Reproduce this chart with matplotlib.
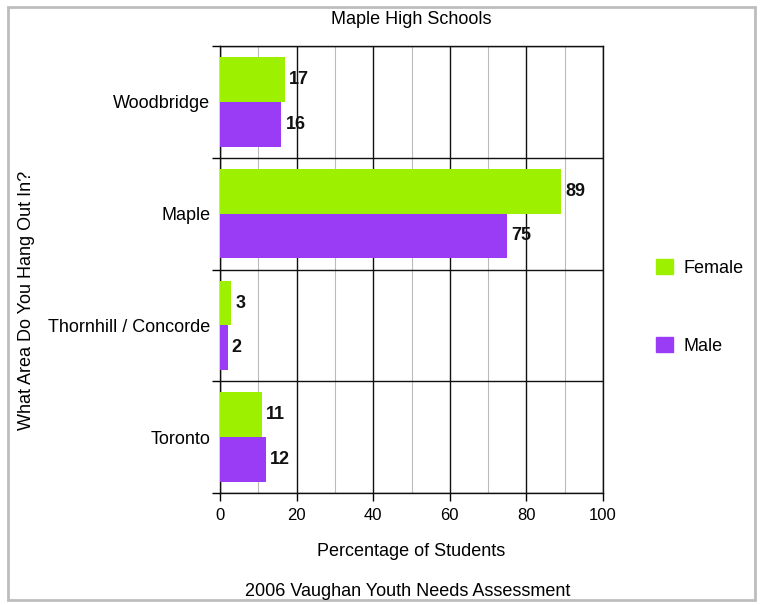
import numpy as np
import matplotlib.pyplot as plt
from matplotlib.patches import Rectangle, Patch
from matplotlib.ticker import MultipleLocator, FixedLocator, NullFormatter

areas = ["Woodbridge", "Maple", "Thornhill / Concorde", "Toronto"]
female = [17, 89, 3, 11]
male = [16, 75, 2, 12]
x_ticks = [0, 20, 40, 60, 80, 100]

female_color = "#9cf000"
male_color = "#9a3cf6"

plt.rcParams["font.family"] = ["Liberation Sans", "DejaVu Sans"]

fig = plt.figure(figsize=(7.6, 6.05), dpi=100)
ax = fig.add_axes([220 / 760, 1 - 493 / 605, 383 / 760, 447 / 605])

y = np.arange(len(areas))
h = 0.4
ax.barh(y - h / 2, female, height=h, color=female_color, zorder=3)
ax.barh(y + h / 2, male, height=h, color=male_color, zorder=3)

for yi, v in zip(y, female):
    ax.annotate(str(v), (v, yi - h / 2), xytext=(3, 0), textcoords="offset points",
                va="center", ha="left", fontsize=13, fontweight="bold", color="#111111")
for yi, v in zip(y, male):
    ax.annotate(str(v), (v, yi + h / 2), xytext=(3, 0), textcoords="offset points",
                va="center", ha="left", fontsize=13, fontweight="bold", color="#111111")

ax.set_xlim(0, 100)
ax.set_ylim(len(areas) - 0.5, -0.5)

# x grid: dark at labelled ticks, light in between
ax.set_xticks(x_ticks)
ax.xaxis.set_minor_locator(MultipleLocator(10))
ax.grid(axis="x", which="major", color="#111111", linewidth=1.0, zorder=1)
ax.grid(axis="x", which="minor", color="#bbbbbb", linewidth=0.8, zorder=1)
ax.tick_params(axis="x", which="major", length=6, width=1, labelsize=12, pad=5)
ax.tick_params(axis="x", which="minor", length=0)

# category separators and outward ticks at band edges
ax.set_yticks(y)
ax.set_yticklabels(areas)
ax.yaxis.set_minor_locator(FixedLocator(np.arange(-0.5, len(areas), 1.0)))
ax.yaxis.set_minor_formatter(NullFormatter())
ax.grid(axis="y", which="minor", color="#111111", linewidth=1.0, zorder=1)
ax.tick_params(axis="y", which="major", length=0, labelsize=13, pad=7)
ax.tick_params(axis="y", which="minor", length=6, width=1)

for s in ax.spines.values():
    s.set_color("#111111")
    s.set_linewidth(1.0)

ax.set_title("Maple High Schools", fontsize=13, pad=16)
ax.set_xlabel("Percentage of Students", fontsize=13, labelpad=14)
fig.text(27 / 760, 1 - 300 / 605, "What Area Do You Hang Out In?", rotation=90,
         ha="center", va="center", fontsize=13)
fig.text(408 / 760, 1 - 591 / 605, "2006 Vaughan Youth Needs Assessment",
         ha="center", va="center", fontsize=13)

handles = [Patch(color=female_color), Patch(color=male_color)]
fig.legend(handles, ["Female", "Male"], loc="center left",
           bbox_to_anchor=(640 / 760, 1 - 307 / 605), frameon=False, fontsize=13,
           handlelength=0.9, handleheight=0.9, handletextpad=0.6, labelspacing=3.3)

fig.add_artist(Rectangle((8 / 760, 5 / 605), 747 / 760, 593 / 605, transform=fig.transFigure,
                         fill=False, edgecolor="#bdbdbd", linewidth=2))

fig.savefig("out.png", dpi=100)
